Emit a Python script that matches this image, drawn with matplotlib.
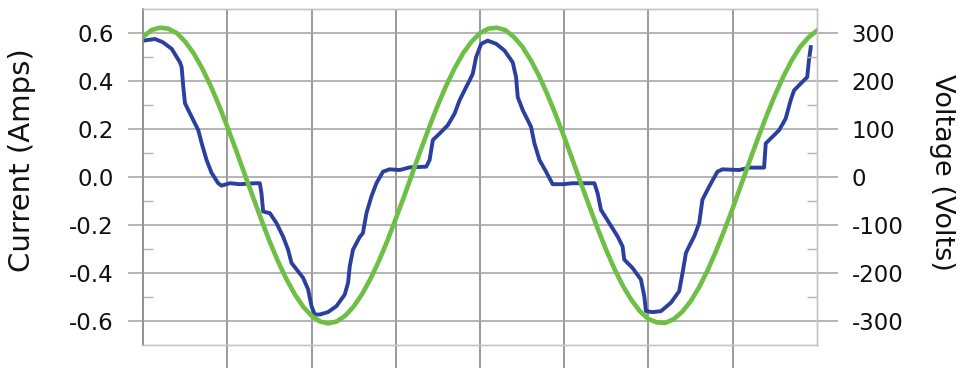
import matplotlib
matplotlib.use("Agg")
import matplotlib.pyplot as plt
from matplotlib.ticker import FixedLocator

# ---- data ----
# time axis in ms (0..40, 8 divisions of 5 ms)
t_current = [0.0, 0.71, 1.19, 1.70, 2.19, 2.29, 2.39, 2.49, 2.89, 3.28, 3.48, 3.77,
             4.07, 4.46, 4.66, 5.16, 5.75, 6.64, 6.93, 7.03, 7.13, 7.53, 7.92, 8.31,
             8.61, 8.81, 9.20, 9.50, 9.80, 10.00, 10.19, 10.49, 10.98, 11.48, 11.97,
             12.17, 12.27, 12.46, 12.86, 13.05, 13.26, 13.55, 13.85, 14.24, 14.64,
             15.23, 15.82, 16.81, 17.01, 17.20, 17.60, 18.09, 18.49, 18.79, 19.18,
             19.38, 19.57, 19.77, 20.07, 20.46, 20.96, 21.45, 21.94, 22.14, 22.24,
             22.54, 23.03, 23.23, 23.53, 23.92, 24.31, 24.91, 25.50, 26.19, 26.79,
             26.98, 27.18, 27.67, 28.17, 28.46, 28.56, 29.05, 29.55, 29.75, 29.85,
             30.24, 30.74, 31.33, 31.82, 32.02, 32.22, 32.41, 32.71, 33.01, 33.20,
             33.60, 34.09, 34.39, 35.38, 35.97, 36.86, 36.96, 37.35, 37.75, 38.14,
             38.44, 38.64, 39.03, 39.42, 39.52, 39.63]
current_amps = [0.568, 0.575, 0.561, 0.534, 0.478, 0.458, 0.375, 0.307, 0.250, 0.195,
                0.141, 0.071, 0.017, -0.026, -0.036, -0.026, -0.030, -0.026, -0.026,
                -0.068, -0.144, -0.151, -0.192, -0.248, -0.303, -0.358, -0.393, -0.420,
                -0.469, -0.538, -0.573, -0.573, -0.563, -0.538, -0.490, -0.441, -0.372,
                -0.303, -0.250, -0.234, -0.151, -0.082, -0.026, 0.022, 0.032, 0.029,
                0.040, 0.043, 0.071, 0.154, 0.181, 0.216, 0.264, 0.320, 0.375, 0.402,
                0.430, 0.500, 0.555, 0.568, 0.555, 0.527, 0.478, 0.416, 0.333, 0.278,
                0.209, 0.140, 0.071, 0.022, -0.030, -0.030, -0.026, -0.026, -0.026,
                -0.068, -0.137, -0.192, -0.248, -0.289, -0.344, -0.379, -0.427, -0.497,
                -0.559, -0.563, -0.559, -0.524, -0.476, -0.400, -0.317, -0.289, -0.248,
                -0.192, -0.095, -0.040, 0.022, 0.032, 0.029, 0.039, 0.039, 0.140,
                0.167, 0.195, 0.243, 0.320, 0.361, 0.389, 0.416, 0.485, 0.541]

# voltage sampled every 0.5 ms
t_voltage = [i * 0.5 for i in range(81)]
voltage_volts = [292, 306, 311, 309, 300, 282, 258, 227, 191, 150, 105, 58, 9, -39,
                 -87, -133, -175, -212, -244, -270, -289, -301, -305, -301, -289, -270,
                 -244, -212, -175, -133, -87, -40, 9, 58, 105, 150, 191, 227, 258, 282,
                 300, 309, 311, 306, 292, 272, 244, 211, 172, 129, 83, 35, -14, -62,
                 -109, -153, -193, -228, -257, -280, -296, -303, -304, -296, -281, -259,
                 -230, -195, -155, -111, -65, -16, 33, 81, 127, 170, 209, 243, 271, 291,
                 305]

current_ticks = [-0.6, -0.4, -0.2, 0.0, 0.2, 0.4, 0.6]
current_labels = ["-0.6", "-0.4", "-0.2", "0.0", "0.2", "0.4", "0.6"]
voltage_ticks = [-300, -200, -100, 0, 100, 200, 300]
voltage_labels = ["-300", "-200", "-100", "0", "100", "200", "300"]
time_ticks = [5, 10, 15, 20, 25, 30, 35]

# ---- figure ----
fig = plt.figure(figsize=(9.58, 3.70), dpi=100)
ax = fig.add_axes([0.1493, 0.0676, 0.7035, 0.9081])
ax2 = ax.twinx()

hgrid = "#a0a0a0"
vgrid = "#808080"
minor_c = "#b4b4b4"
txt = "#111111"

ax.set_xlim(0, 40)
ax.set_ylim(-0.7, 0.7)
ax2.set_ylim(-350, 350)

ax.xaxis.set_major_locator(FixedLocator(time_ticks))
ax.tick_params(axis="x", which="major", direction="out", length=16.5, width=1.1,
               color=vgrid, labelbottom=False)
ax.grid(True, axis="x", color=vgrid, linewidth=1.1)

ax.set_yticks(current_ticks)
ax.set_yticklabels(current_labels)
ax.yaxis.set_minor_locator(FixedLocator([-0.5, -0.3, -0.1, 0.1, 0.3, 0.5]))
ax.tick_params(axis="y", which="major", direction="out", length=11, width=1.1,
               color=hgrid, labelsize=16.5, labelcolor=txt, pad=10)
ax.tick_params(axis="y", which="minor", direction="in", length=7, width=1.0,
               color=minor_c)
ax.grid(True, axis="y", which="major", color=hgrid, linewidth=1.1)
ax.set_axisbelow(True)

ax2.set_yticks(voltage_ticks)
ax2.set_yticklabels(voltage_labels)
ax2.yaxis.set_minor_locator(FixedLocator([-250, -150, -50, 50, 150, 250]))
ax2.tick_params(axis="y", which="major", direction="out", length=15, width=1.1,
                color=hgrid, labelsize=16.5, labelcolor=txt, pad=10)
ax2.tick_params(axis="y", which="minor", direction="in", length=7, width=1.0,
                color=minor_c)

for a in (ax, ax2):
    for side in ("top", "bottom", "right"):
        a.spines[side].set_color("#c4c4c4")
        a.spines[side].set_linewidth(1.0)
    a.spines["left"].set_color("#909090")
    a.spines["left"].set_linewidth(1.2)

# ---- data lines ----
ax.plot(t_current, current_amps, color="#2b3f9f", linewidth=2.8,
        solid_joinstyle="round", zorder=3)
ax2.plot(t_voltage, voltage_volts, color="#6dbf45", linewidth=3.3,
         solid_joinstyle="round", zorder=3)

# ---- axis labels ----
ax.set_ylabel("Current (Amps)", fontsize=21, color=txt)
ax.yaxis.label.set_verticalalignment("center")
ax.yaxis.label.set_horizontalalignment("center")
ax.yaxis.set_label_coords(-0.1795, 0.55)

ax2.set_ylabel("Voltage (Volts)", fontsize=19.5, color=txt, rotation=270)
ax2.yaxis.label.set_verticalalignment("center")
ax2.yaxis.label.set_horizontalalignment("center")
ax2.yaxis.set_label_coords(1.185, 0.515)

fig.savefig("out.png", dpi=100)
